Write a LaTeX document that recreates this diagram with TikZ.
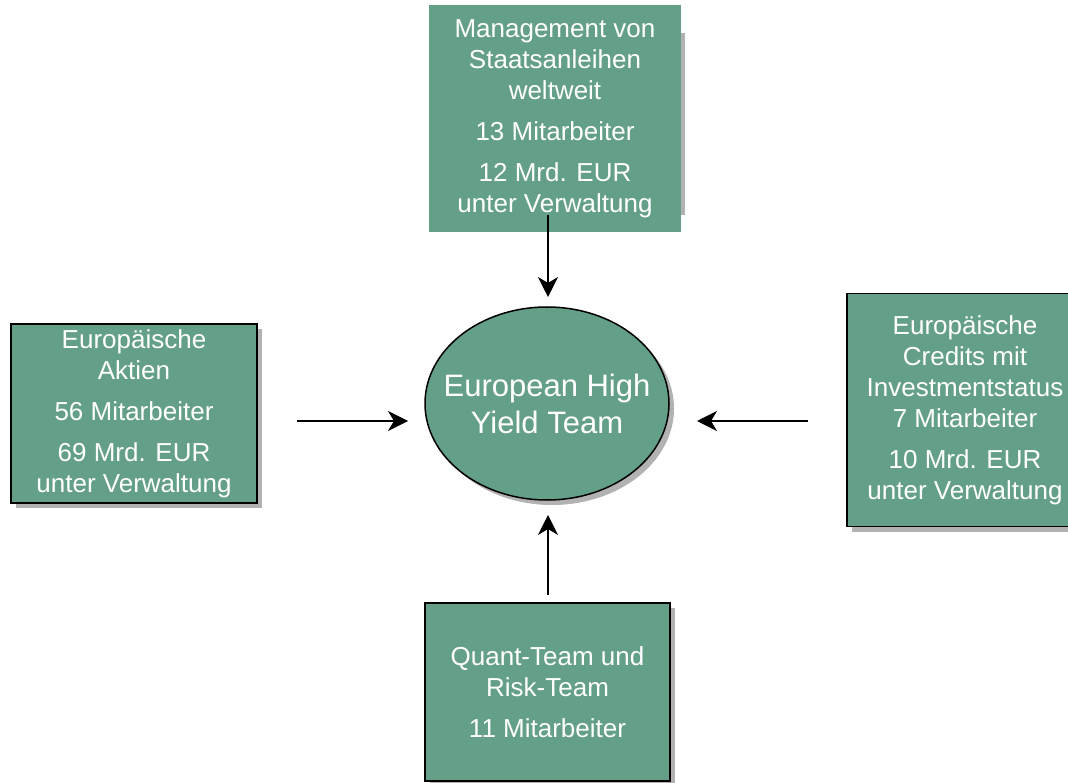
\documentclass[tikz,border=0pt]{standalone}
\usepackage{fontspec}
\setmainfont{Liberation Sans}
\usepackage{xcolor}
\usepackage{tikz}
\usetikzlibrary{positioning,arrows.meta,shapes.geometric,shadows}
\definecolor{teamgreen}{RGB}{100,160,136}
\definecolor{shadowgray}{RGB}{178,178,178}

\begin{document}
\begin{tikzpicture}[
  x=1pt, y=-1pt,
  box/.style={draw, line width=1.5pt, fill=teamgreen, text=white, align=center, font=\fontsize{26}{31}\selectfont, inner sep=0pt,
    drop shadow={shadow xshift=5pt, shadow yshift=-5pt, fill=shadowgray, opacity=1}},
  flatbox/.style={fill=teamgreen, text=white, align=center, font=\fontsize{26}{31}\selectfont, inner sep=0pt},
  hub/.style={ellipse, draw, line width=1.5pt, fill=teamgreen, text=white, align=center, font=\fontsize{31}{37}\selectfont,
    inner xsep=-18pt, inner ysep=0pt,
    drop shadow={shadow xshift=5pt, shadow yshift=-5pt, fill=shadowgray, opacity=1}},
  arr/.style={-{Stealth[length=20pt,width=20pt,inset=6pt]}, line width=1.5pt}
]
\useasboundingbox (0,0) rectangle (1068,783);

\fill[shadowgray] (670,33) rectangle (685,215);
\node[flatbox, minimum width=252pt, minimum height=227pt] (Govt) at (555,118.5) {Management von\\Staatsanleihen\\weltweit\\[10pt]13 Mitarbeiter\\[10pt]12 Mrd. EUR\\unter Verwaltung};
\node[box, minimum width=246pt, minimum height=179pt] (Equity) at (134,413.5) {Europäische\\Aktien\\[10pt]56 Mitarbeiter\\[10pt]69 Mrd. EUR\\unter Verwaltung};
\node[box, minimum width=236pt, minimum height=233pt] (Credit) at (965,410) {Europäische\\Credits mit\\Investmentstatus\\7 Mitarbeiter\\[10pt]10 Mrd. EUR\\unter Verwaltung};
\node[box, minimum width=245pt, minimum height=178pt] (Quant) at (547.5,692) {Quant-Team und\\Risk-Team\\[10pt]11 Mitarbeiter};
\node[hub, minimum width=244pt, minimum height=193pt] (Team) at (547,403.5) {European High\\Yield Team};

\coordinate (GovtOut) at (548,215);
\coordinate (GovtIn) at (548,297);
\coordinate (EquityOut) at (297,421);
\coordinate (EquityIn) at (408,421);
\coordinate (CreditOut) at (808,421);
\coordinate (CreditIn) at (697,421);
\coordinate (QuantOut) at (548,595);
\coordinate (QuantIn) at (548,515);

\draw[arr] (GovtOut) -- (GovtIn);
\draw[arr] (EquityOut) -- (EquityIn);
\draw[arr] (CreditOut) -- (CreditIn);
\draw[arr] (QuantOut) -- (QuantIn);
\end{tikzpicture}
\end{document}
